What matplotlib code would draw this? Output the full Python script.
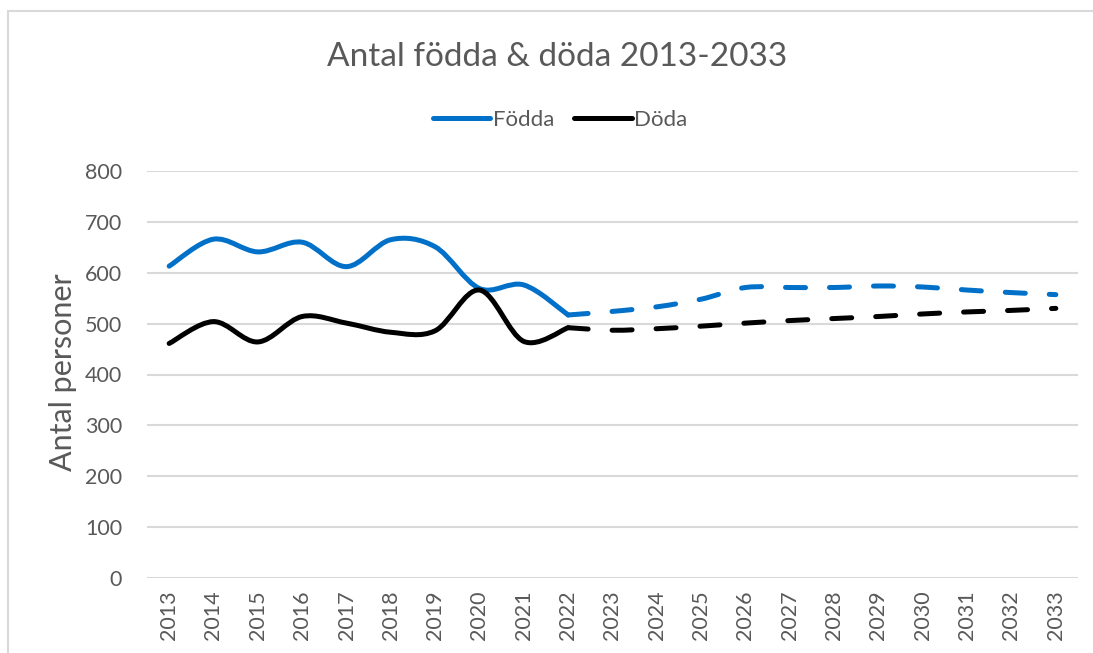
import matplotlib
matplotlib.use('Agg')
import matplotlib.pyplot as plt
from matplotlib.path import Path
from matplotlib.patches import PathPatch, Rectangle
from matplotlib.lines import Line2D

years = [str(y) for y in range(2013, 2034)]

# utfall 2013-2022
fodda_utfall = [613, 666, 641, 660, 612, 665, 651, 569, 576, 517]
doda_utfall = [461, 504, 464, 514, 501, 483, 486, 566, 465, 492]

# prognos 2022-2033
fodda_prognos = [517, 524, 533, 548, 571, 571, 571, 574, 572, 566, 561, 557]
doda_prognos = [492, 487, 490, 495, 501, 506, 510, 514, 519, 523, 526, 530]

BLUE = '#0070C8'
GREY_TEXT = '#595959'
GRID = '#D9D9D9'

plt.rcParams['font.family'] = ['Lato', 'DejaVu Sans']


def smooth_path(xs, ys):
    # bezier-kurva genom punkterna (som Excels "utjämnad linje")
    n = len(xs)
    verts = [(xs[0], ys[0])]
    codes = [Path.MOVETO]
    for i in range(n - 1):
        x0, y0 = xs[max(i - 1, 0)], ys[max(i - 1, 0)]
        x1, y1 = xs[i], ys[i]
        x2, y2 = xs[i + 1], ys[i + 1]
        x3, y3 = xs[min(i + 2, n - 1)], ys[min(i + 2, n - 1)]
        c1 = (x1 + (x2 - x0) / 6, y1 + (y2 - y0) / 6)
        c2 = (x2 - (x3 - x1) / 6, y2 - (y3 - y1) / 6)
        verts += [c1, c2, (x2, y2)]
        codes += [Path.CURVE4] * 3
    return Path(verts, codes)


fig = plt.figure(figsize=(10.93, 6.53), dpi=100)
ax = fig.add_axes([147 / 1093, 1 - 578 / 653, 931 / 1093, 407 / 653])

x_utfall = list(range(len(fodda_utfall)))
x_prognos = list(range(len(fodda_utfall) - 1, len(years)))

lw = 3.6
dash = (0, (4, 4.8))
for xs, ys, color, ls in [
    (x_utfall, fodda_utfall, BLUE, '-'),
    (x_utfall, doda_utfall, 'black', '-'),
    (x_prognos, fodda_prognos, BLUE, dash),
    (x_prognos, doda_prognos, 'black', dash),
]:
    patch = PathPatch(smooth_path(xs, ys), facecolor='none', edgecolor=color,
                      lw=lw, linestyle=ls, capstyle='round', joinstyle='round', zorder=3)
    ax.add_patch(patch)

ax.set_xlim(-0.5, len(years) - 0.5)
ax.set_ylim(0, 800)
ax.set_yticks(range(0, 801, 100))
ax.set_xticks(range(len(years)))
ax.set_xticklabels(years, rotation=90)
ax.grid(axis='y', color=GRID, lw=1.5)
ax.set_axisbelow(True)
for s in ax.spines.values():
    s.set_visible(False)
ax.tick_params(axis='both', length=0, colors=GREY_TEXT, labelsize=15.5)
ax.tick_params(axis='y', pad=18)
ax.tick_params(axis='x', pad=9)

fig.text(557 / 1093, 1 - 57 / 653, 'Antal födda & döda 2013-2033',
         ha='center', va='center', fontsize=24, color=GREY_TEXT)
fig.text(63 / 1093, 1 - 372 / 653, 'Antal personer', rotation=90,
         ha='center', va='center', fontsize=22, color=GREY_TEXT)

handles = [Line2D([], [], color=BLUE, lw=lw, solid_capstyle='round'),
           Line2D([], [], color='black', lw=lw, solid_capstyle='round')]
leg = fig.legend(handles, ['Födda', 'Döda'], loc='center',
                 bbox_to_anchor=(560 / 1093, 1 - 120 / 653), ncol=2, frameon=False,
                 fontsize=16, handlelength=2.6, handletextpad=0.1, columnspacing=0.9)
for t in leg.get_texts():
    t.set_color(GREY_TEXT)

# ram runt diagrammet
fig.patches.append(Rectangle((8 / 1093, -0.1), 1.2, 1 - 11 / 653 + 0.1,
                             transform=fig.transFigure, fill=False,
                             edgecolor=GRID, lw=1.5))

fig.savefig('out.png', dpi=100)
